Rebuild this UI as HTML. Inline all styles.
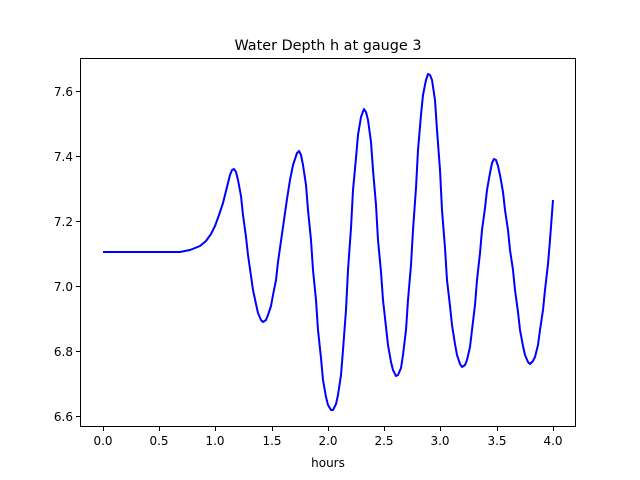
<!DOCTYPE html>
<html><head><style>body{margin:0;background:#fff}svg{display:block}text{font-family:"DejaVu Sans","Liberation Sans",sans-serif;font-size:12px;fill:#000}</style></head><body>
<svg width="640" height="480" xmlns="http://www.w3.org/2000/svg">
<rect width="640" height="480" fill="#fff"/>
<text x="328" y="50" text-anchor="middle" style="font-size:14.4px">Water Depth h at gauge 3</text>
<polyline fill="none" stroke="#0000ff" stroke-width="2" stroke-linejoin="round" points="103,252 180,252 190,250 200,246 206,241 211,234 215,226 219,215 223,203 227,187 230,175 232,170 234,169 236,172 238,180 241,196 243,215 246,237 248,255 251,276 253,290 256,304 258,313 261,320 263,322 266,320 268,315 271,306 273,295 276,280 278,262 281,241 284,220 287,199 290,180 293,165 297,153 299,151 301,155 303,165 306,185 308,210 311,240 313,270 316,300 318,330 321,358 323,380 326,397 328,405 331,410 333,410 336,404 338,395 341,375 343,350 346,310 348,270 351,228 353,190 356,158 358,135 361,117 364,109 366,112 368,120 371,142 373,170 376,205 378,240 381,272 383,300 386,327 388,345 391,362 393,370 396,376 398,375 401,368 403,355 406,330 408,300 411,265 413,230 416,188 418,150 421,115 423,95 426,80 428,74 430,75 432,80 435,100 437,130 440,170 442,210 445,248 447,280 450,306 452,325 455,344 457,355 460,364 462,367 465,365 467,360 470,347 472,330 475,305 477,280 480,253 482,230 485,208 487,190 490,173 492,163 494,159 496,160 498,166 500,175 503,192 505,210 508,230 510,250 513,270 515,290 518,312 520,330 523,346 525,355 528,362 530,364 533,361 535,357 538,345 540,330 543,310 545,290 548,264 550,240 553,200"/>
<rect x="80.5" y="58.5" width="495" height="368" fill="none" stroke="#000" stroke-width="1"/>
<g stroke="#000" stroke-width="1">
<line x1="103.5" y1="427" x2="103.5" y2="431"/><line x1="159.5" y1="427" x2="159.5" y2="431"/><line x1="215.5" y1="427" x2="215.5" y2="431"/><line x1="272.5" y1="427" x2="272.5" y2="431"/><line x1="328.5" y1="427" x2="328.5" y2="431"/><line x1="384.5" y1="427" x2="384.5" y2="431"/><line x1="440.5" y1="427" x2="440.5" y2="431"/><line x1="497.5" y1="427" x2="497.5" y2="431"/><line x1="553.5" y1="427" x2="553.5" y2="431"/>
<line x1="76" y1="91.5" x2="80" y2="91.5"/><line x1="76" y1="156.5" x2="80" y2="156.5"/><line x1="76" y1="221.5" x2="80" y2="221.5"/><line x1="76" y1="286.5" x2="80" y2="286.5"/><line x1="76" y1="351.5" x2="80" y2="351.5"/><line x1="76" y1="416.5" x2="80" y2="416.5"/>
</g>
<g text-anchor="middle">
<text x="103" y="445">0.0</text><text x="159" y="445">0.5</text><text x="215" y="445">1.0</text><text x="272" y="445">1.5</text><text x="328" y="445">2.0</text><text x="384" y="445">2.5</text><text x="440" y="445">3.0</text><text x="497" y="445">3.5</text><text x="553" y="445">4.0</text>
<text x="328" y="467">hours</text>
</g>
<g text-anchor="end">
<text x="73" y="96">7.6</text><text x="73" y="161">7.4</text><text x="73" y="226">7.2</text><text x="73" y="291">7.0</text><text x="73" y="356">6.8</text><text x="73" y="421">6.6</text>
</g>
</svg>
</body></html>
